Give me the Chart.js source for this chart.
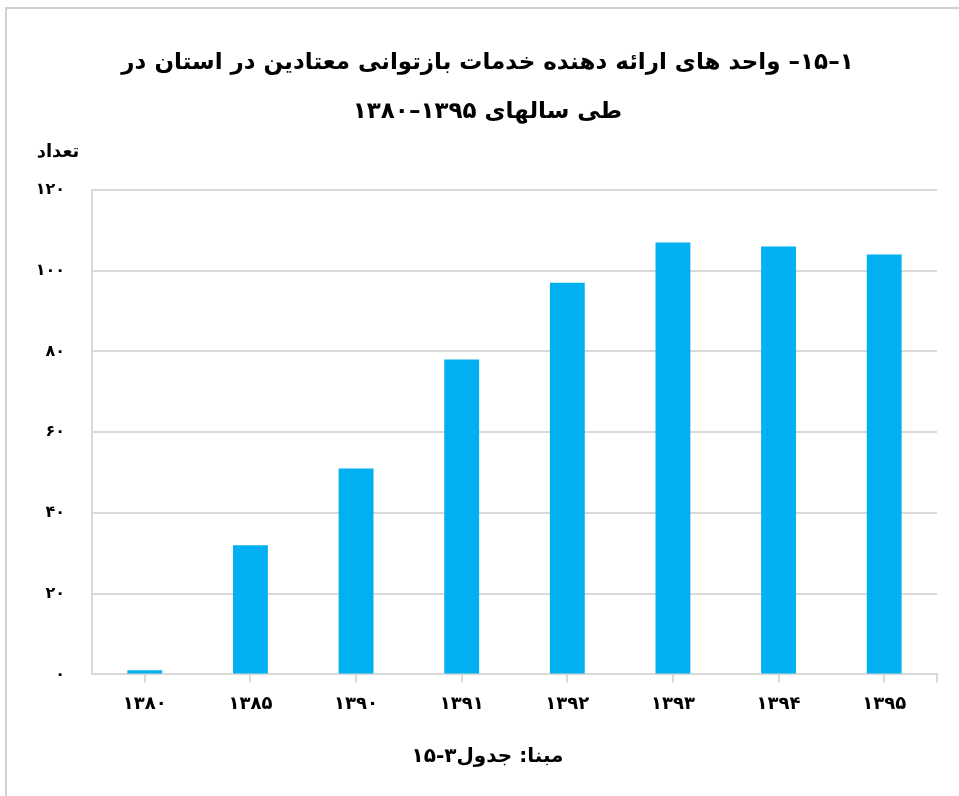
<!DOCTYPE html>
<html>
<head>
<meta charset="utf-8">
<script src="https://cdn.jsdelivr.net/npm/chart.js@4.4.1/dist/chart.umd.min.js"></script>
<style>
  html, body { margin: 0; padding: 0; background: #fff; overflow: hidden; }
  #chart { display: block; }
</style>
</head>
<body>
<canvas id="chart" dir="rtl" width="959" height="796"></canvas>
<script>
// values
const years = ['۱۳۸۰', '۱۳۸۵', '۱۳۹۰', '۱۳۹۱', '۱۳۹۲', '۱۳۹۳', '۱۳۹۴', '۱۳۹۵'];
const units = [1, 32, 51, 78, 97, 107, 106, 104];
const yTicks = [0, 20, 40, 60, 80, 100, 120];

const titleLines = [
  '۱–۱۵– واحد های ارائه دهنده خدمات بازتوانی معتادین در استان در',
  'طی سالهای ۱۳۹۵–۱۳۸۰'
];
const yAxisLabel = 'تعداد';
const sourceNote = 'مبنا: جدول۳‐۱۵';

const faDigits = ['۰','۱','۲','۳','۴','۵','۶','۷','۸','۹'];
function toFa(n){ return String(n).replace(/\d/g, d => faDigits[d]); }

const FONT = "'DejaVu Sans', sans-serif";
const gridGray = '#d9d9d9';

// spaced-out digits on the axis labels, where the canvas supports it
const spacedLabels = {
  id: 'spacedLabels',
  afterLayout(chart){
    if (!('letterSpacing' in CanvasRenderingContext2D.prototype)) return;
    [['x', '4px'], ['y', '3px']].forEach(([id, sp]) => {
      const s = chart.scales[id];
      if (!s || s._spaced) return;
      const orig = s.drawLabels.bind(s);
      s.drawLabels = function(area){
        const c = this.ctx;
        c.save();
        c.letterSpacing = sp;
        orig(area);
        c.restore();
      };
      s._spaced = true;
    });
  }
};

// page frame (left and top edges), closing tick on the category axis, "تعداد" label
const decorations = {
  id: 'decorations',
  beforeDraw(chart){
    const c = chart.ctx;
    c.save();
    c.strokeStyle = '#d0d0d0';
    c.lineWidth = 2;
    c.beginPath();
    c.moveTo(6, chart.height);
    c.lineTo(6, 8);
    c.lineTo(chart.width, 8);
    c.stroke();
    c.restore();
  },
  afterDraw(chart){
    const c = chart.ctx;
    const a = chart.chartArea;
    c.save();
    c.strokeStyle = gridGray;
    c.lineWidth = 2;
    c.beginPath();
    c.moveTo(a.right, a.bottom);
    c.lineTo(a.right, a.bottom + 8);
    c.stroke();
    c.font = 'bold 18px ' + FONT;
    c.fillStyle = '#000';
    c.textAlign = 'center';
    c.textBaseline = 'middle';
    c.fillText(yAxisLabel, 58, a.top - 38);
    c.restore();
  }
};

new Chart(document.getElementById('chart'), {
  type: 'bar',
  data: {
    labels: years,
    datasets: [{
      data: units,
      backgroundColor: '#00b0f0',
      borderWidth: 0,
      categoryPercentage: 1,
      barPercentage: 0.33
    }]
  },
  options: {
    responsive: false,
    animation: false,
    layout: { padding: { left: 38, right: 22, top: 0, bottom: 0 } },
    plugins: {
      legend: { display: false },
      tooltip: { enabled: false },
      title: {
        display: true,
        text: titleLines,
        color: '#000',
        font: { family: FONT, size: 23, weight: 'bold', lineHeight: 49 / 23 },
        padding: { top: 39, bottom: 53 }
      },
      subtitle: {
        display: true,
        position: 'bottom',
        text: sourceNote,
        color: '#000',
        font: { family: FONT, size: 20, weight: 'bold', lineHeight: 1.2 },
        padding: { top: 19, bottom: 27 }
      }
    },
    scales: {
      x: {
        grid: { display: true, drawOnChartArea: false, offset: false, color: gridGray, lineWidth: 2, tickLength: 8 },
        border: { display: true, color: gridGray, width: 2 },
        ticks: { color: '#000', font: { family: FONT, size: 18, weight: 'bold', lineHeight: 1.2 }, padding: 11, maxRotation: 0 }
      },
      y: {
        min: 0,
        max: 120,
        afterBuildTicks(scale){ scale.ticks = yTicks.map(v => ({ value: v })); },
        afterFit(scale){ scale.width = 54; },
        grid: { color: gridGray, lineWidth: 2, drawTicks: false },
        border: { display: true, color: gridGray, width: 2 },
        ticks: {
          color: '#000',
          padding: 27,
          font: { family: FONT, size: 16, weight: 'bold' },
          callback: v => toFa(v)
        }
      }
    }
  },
  plugins: [spacedLabels, decorations]
});
</script>
</body>
</html>
